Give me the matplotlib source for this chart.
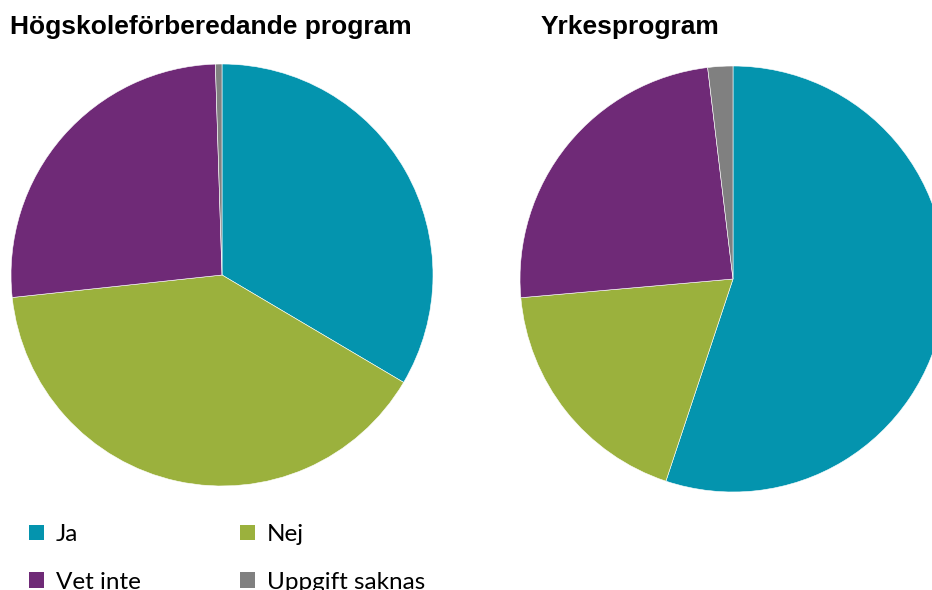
import matplotlib.pyplot as plt
from matplotlib.patches import Patch

# andel elever (%), läst av från bilden
labels = ["Ja", "Nej", "Vet inte", "Uppgift saknas"]
hogskole = [33.5, 39.8, 26.2, 0.5]
yrkes = [55.1, 18.5, 24.5, 1.9]
titles = ["Högskoleförberedande program", "Yrkesprogram"]
colors = ["#0494ae", "#9bb13d", "#6f2a77", "#808080"]

W, H = 932, 590
fig = plt.figure(figsize=(W / 100, H / 100), dpi=100)

def pie_axes(cx, cy, r):
    # center and radius in pixels, y from top
    return fig.add_axes([(cx - r) / W, 1 - (cy + r) / H, 2 * r / W, 2 * r / H])

ax1 = pie_axes(222, 275, 211)
ax2 = pie_axes(733, 279, 213)

for ax, vals in zip([ax1, ax2], [hogskole, yrkes]):
    ax.pie(vals, colors=colors, startangle=90, counterclock=False, radius=1,
           wedgeprops=dict(edgecolor="white", linewidth=0.4))
    ax.set_xlim(-1, 1)
    ax.set_ylim(-1, 1)
    ax.set_aspect("equal")
    ax.axis("off")

fig.text(10 / W, 1 - 34 / H, titles[0], fontsize=19, fontweight="bold",
         family="Liberation Sans", ha="left", va="baseline")
fig.text(541 / W, 1 - 34 / H, titles[1], fontsize=19, fontweight="bold",
         family="Liberation Sans", ha="left", va="baseline")

order = [0, 2, 1, 3]
handles = [Patch(facecolor=colors[i], edgecolor="none") for i in order]
fig.legend(handles, [labels[i] for i in order], ncol=2, loc="upper left",
           bbox_to_anchor=(29 / W, 1 - 524 / H), frameon=False,
           prop=dict(family="Lato", size=17.5), handlelength=0.6, handleheight=0.6,
           handletextpad=0.5, columnspacing=4.1, labelspacing=1.1,
           borderpad=0, borderaxespad=0)

fig.savefig("out.png", dpi=100)
